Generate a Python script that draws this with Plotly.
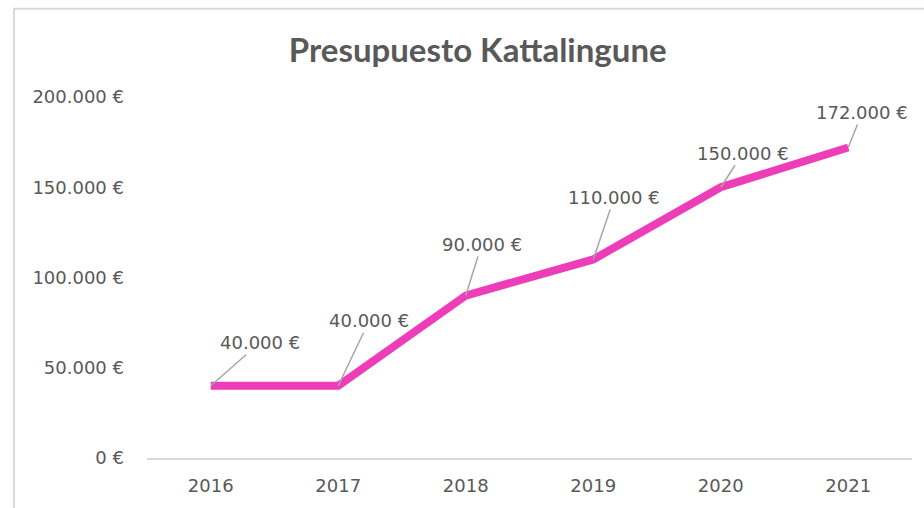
import plotly.graph_objects as go

years = ["2016", "2017", "2018", "2019", "2020", "2021"]
budget = [40000, 40000, 90000, 110000, 150000, 172000]
label_text = ["40.000 €", "40.000 €", "90.000 €", "110.000 €", "150.000 €", "172.000 €"]
y_ticks = [0, 50000, 100000, 150000, 200000]
y_tick_text = ["0 €", "50.000 €", "100.000 €", "150.000 €", "200.000 €"]

# label offsets (pixels) for leader-line data labels
label_dx = [49, 31, 16, 21, 22, 14]
label_dy = [-43, -65, -51, -62, -34, -35]

TXT = "#595959"
FONT = "DejaVu Sans"

fig = go.Figure()
fig.add_trace(go.Scatter(
    x=years, y=budget, mode="lines",
    line=dict(color="#EE3DB8", width=8),
    hoverinfo="skip", showlegend=False,
))

for i, (y, t, dx, dy) in enumerate(zip(budget, label_text, label_dx, label_dy)):
    fig.add_annotation(
        x=i, y=y, xref="x", yref="y", text=t,
        showarrow=True, arrowhead=0, arrowwidth=1.5, arrowcolor="#A6A6A6",
        ax=dx, ay=dy, standoff=0,
        font=dict(family=FONT, size=18, color=TXT),
    )

# chart border (partially cropped in original)
fig.add_shape(type="rect", xref="paper", yref="paper",
              x0=(14 - 147) / 765, x1=(940 - 147) / 765,
              y0=(458 - 530) / 360, y1=(458 - 10) / 360,
              line=dict(color="#D9D9D9", width=2), fillcolor="rgba(0,0,0,0)",
              layer="below")

fig.update_layout(
    width=924, height=508,
    margin=dict(l=147, r=12, t=97, b=43),
    paper_bgcolor="white", plot_bgcolor="white",
    title=dict(text="<b>Presupuesto Kattalingune</b>", x=0.517, xanchor="center",
               y=1 - 50 / 508, yanchor="middle",
               font=dict(family="Lato", size=33, color=TXT)),
    xaxis=dict(type="category", range=[-0.5, 5.5], showgrid=False,
               showline=True, linecolor="#D9D9D9", linewidth=2,
               ticks="", ticklabelstandoff=10,
               tickfont=dict(family=FONT, size=18, color=TXT), zeroline=False),
    yaxis=dict(range=[0, 200000], tickvals=y_ticks, ticktext=y_tick_text,
               showgrid=False, showline=False, zeroline=False, ticks="",
               ticklabelstandoff=22,
               tickfont=dict(family=FONT, size=18, color=TXT)),
)

fig.write_html("out.html", config={"displayModeBar": False},
               post_script="document.body.style.margin='0';document.body.style.overflow='hidden';")
